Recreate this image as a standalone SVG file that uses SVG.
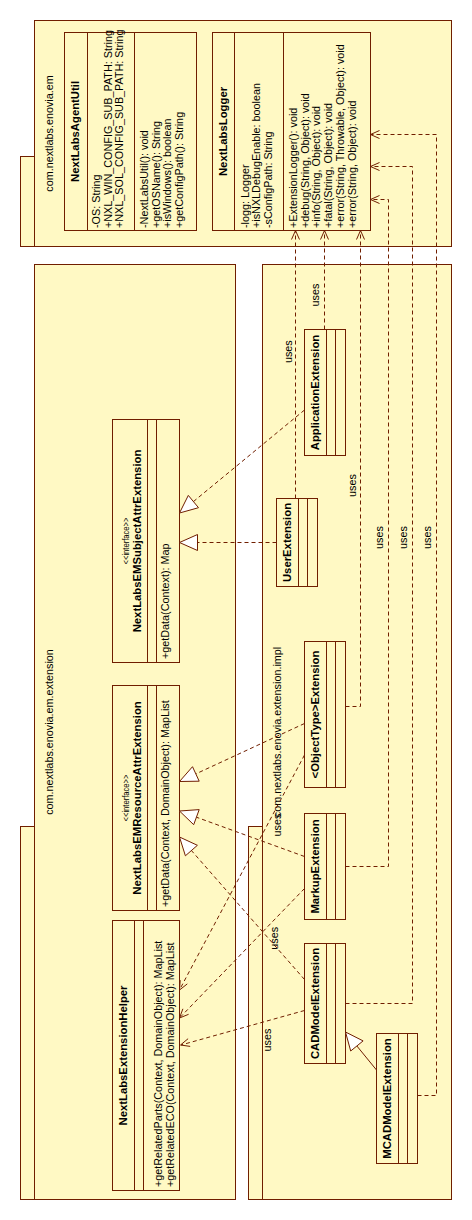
<svg xmlns="http://www.w3.org/2000/svg" width="472" height="1220" viewBox="0 0 472 1220">
<style>
.pk{fill:#FFF9C4;stroke:#701E00;stroke-width:1}
.cl{fill:#FFF9C4;stroke:#701E00;stroke-width:1}
.dv{stroke:#701E00;stroke-width:1;fill:none}
.t{font-family:"Liberation Sans",Arial,sans-serif;font-size:10.8px;fill:#000}
.b{font-weight:bold;font-size:11.3px}
.m{text-anchor:middle}
.st{font-size:9.5px}
.dep{fill:none;stroke:#701E00;stroke-width:1;stroke-dasharray:4 3}
.ln{fill:none;stroke:#701E00;stroke-width:1}
.tri{fill:#fff;stroke:#701E00;stroke-width:1}
</style>
<rect width="472" height="1220" fill="#fff"/>

<g id="pkg-em">
<rect class="pk" x="20.5" y="156.5" width="14" height="90"/>
<rect class="pk" x="34.5" y="20.5" width="417" height="226"/>
<text class="t m" transform="translate(52.5,133.5) rotate(-90)">com.nextlabs.enovia.em</text>
</g>
<g id="pkg-extension">
<rect class="pk" x="20.5" y="826.5" width="14" height="373"/>
<rect class="pk" x="34.5" y="264.5" width="201" height="935"/>
<text class="t m" transform="translate(52.5,732) rotate(-90)">com.nextlabs.enovia.em.extension</text>
</g>
<g id="pkg-impl">
<rect class="pk" x="248.5" y="826.5" width="14" height="373"/>
<rect class="pk" x="262.5" y="264.5" width="189" height="935"/>
<text class="t m" transform="translate(280.5,732) rotate(-90)">com.nextlabs.enovia.extension.impl</text>
</g>

<g id="NextLabsAgentUtil">
<rect class="cl" x="64.5" y="32.5" width="132" height="198"/>
<path class="dv" d="M87.5,32.5V230.5M134.5,32.5V230.5"/>
<text class="t b m" transform="translate(78.5,131.5) rotate(-90)">NextLabsAgentUtil</text>
<text class="t" transform="translate(100,228) rotate(-90)">-OS: String</text>
<text class="t" transform="translate(111.7,228) rotate(-90)">+NXL_WIN_CONFIG_SUB_PATH: String</text>
<text class="t" transform="translate(123.4,228) rotate(-90)">+NXL_SOL_CONFIG_SUB_PATH: String</text>
<text class="t" transform="translate(148,228) rotate(-90)">-NextLabsUtil(): void</text>
<text class="t" transform="translate(159.7,228) rotate(-90)">+getOSName(): String</text>
<text class="t" transform="translate(171.4,228) rotate(-90)">+isWindows(): boolean</text>
<text class="t" transform="translate(183.1,228) rotate(-90)">+getConfigPath(): String</text>
</g>

<g id="NextLabsLogger">
<rect class="cl" x="212.5" y="32.5" width="158" height="198"/>
<path class="dv" d="M234.5,32.5V230.5M283.5,32.5V230.5"/>
<text class="t b m" transform="translate(227,131.5) rotate(-90)">NextLabsLogger</text>
<text class="t" transform="translate(248.5,228) rotate(-90)">-logg: Logger</text>
<text class="t" transform="translate(260.2,228) rotate(-90)">+isNXLDebugEnable: boolean</text>
<text class="t" transform="translate(271.9,228) rotate(-90)">-sConfigPath: String</text>
<text class="t" transform="translate(297,228) rotate(-90)">+ExtensionLogger(): void</text>
<text class="t" transform="translate(308.7,228) rotate(-90)">+debug(String, Object): void</text>
<text class="t" transform="translate(320.4,228) rotate(-90)">+info(String, Object): void</text>
<text class="t" transform="translate(332.1,228) rotate(-90)">+fatal(String, Object): void</text>
<text class="t" transform="translate(343.8,228) rotate(-90)">+error(String, Throwable, Object): void</text>
<text class="t" transform="translate(355.5,228) rotate(-90)">+error(String, Object): void</text>
</g>

<g id="NextLabsEMSubjectAttrExtension">
<rect class="cl" x="112.5" y="419.5" width="67" height="243"/>
<path class="dv" d="M147.5,419.5V662.5M156.5,419.5V662.5"/>
<text class="t st m" transform="translate(129,541) rotate(-90)" textLength="47" lengthAdjust="spacingAndGlyphs">&lt;&lt;interface&gt;&gt;</text>
<text class="t b m" transform="translate(141,541) rotate(-90)">NextLabsEMSubjectAttrExtension</text>
<text class="t" transform="translate(169,659) rotate(-90)">+getData(Context): Map</text>
</g>

<g id="NextLabsEMResourceAttrExtension">
<rect class="cl" x="112.5" y="685.5" width="67" height="225"/>
<path class="dv" d="M147.5,685.5V910.5M156.5,685.5V910.5"/>
<text class="t st m" transform="translate(129,798) rotate(-90)" textLength="47" lengthAdjust="spacingAndGlyphs">&lt;&lt;interface&gt;&gt;</text>
<text class="t b m" transform="translate(141,798) rotate(-90)">NextLabsEMResourceAttrExtension</text>
<text class="t" transform="translate(169,907) rotate(-90)">+getData(Context, DomainObject): MapList</text>
</g>

<g id="NextLabsExtensionHelper">
<rect class="cl" x="112.5" y="920.5" width="67" height="270"/>
<path class="dv" d="M134.5,920.5V1190.5M143.5,920.5V1190.5"/>
<text class="t b m" transform="translate(127,1055.5) rotate(-90)">NextLabsExtensionHelper</text>
<text class="t" transform="translate(162,1187) rotate(-90)">+getRelatedParts(Context, DomainObject): MapList</text>
<text class="t" transform="translate(173.5,1187) rotate(-90)">+getRelatedECO(Context, DomainObject): MapList</text>
</g>

<g id="ApplicationExtension">
<rect class="cl" x="304.5" y="329.5" width="41" height="126"/>
<path class="dv" d="M326.5,329.5V455.5M335.5,329.5V455.5"/>
<text class="t b m" transform="translate(318.5,392.5) rotate(-90)">ApplicationExtension</text>
</g>
<g id="UserExtension">
<rect class="cl" x="276.5" y="498.5" width="41" height="88"/>
<path class="dv" d="M298.5,498.5V586.5M307.5,498.5V586.5"/>
<text class="t b m" transform="translate(290.5,542.5) rotate(-90)">UserExtension</text>
</g>
<g id="ObjectTypeExtension">
<rect class="cl" x="304.5" y="641.5" width="41" height="146"/>
<path class="dv" d="M326.5,641.5V787.5M335.5,641.5V787.5"/>
<text class="t b m" transform="translate(318.5,714.5) rotate(-90)">&lt;ObjectType&gt;Extension</text>
</g>
<g id="MarkupExtension">
<rect class="cl" x="304.5" y="813.5" width="41" height="106"/>
<path class="dv" d="M326.5,813.5V919.5M335.5,813.5V919.5"/>
<text class="t b m" transform="translate(318.5,866.5) rotate(-90)">MarkupExtension</text>
</g>
<g id="CADModelExtension">
<rect class="cl" x="304.5" y="943.5" width="41" height="120"/>
<path class="dv" d="M326.5,943.5V1063.5M335.5,943.5V1063.5"/>
<text class="t b m" transform="translate(318.5,1003.5) rotate(-90)">CADModelExtension</text>
</g>
<g id="MCADModelExtension">
<rect class="cl" x="376.5" y="1033.5" width="41" height="130"/>
<path class="dv" d="M398.5,1033.5V1163.5M407.5,1033.5V1163.5"/>
<text class="t b m" transform="translate(390.5,1098.5) rotate(-90)">MCADModelExtension</text>
</g>

<g id="connectors">
<path class="dep" d="M295.5,498.5V231"/>
<path class="ln" d="M291.5,239.5L295.5,230.5L299.5,239.5"/>
<path class="dep" d="M324.5,329.5V231"/>
<path class="ln" d="M320.5,239.5L324.5,230.5L328.5,239.5"/>
<path class="dep" d="M345.5,706.5H360.5V231"/>
<path class="ln" d="M356.5,239.5L360.5,230.5L364.5,239.5"/>
<path class="dep" d="M345.5,866.5H388.5V199.5H371"/>
<path class="ln" d="M379.5,195.5L370.5,199.5L379.5,203.5"/>
<path class="dep" d="M345.5,1003.5H412.5V166.5H371"/>
<path class="ln" d="M379.5,162.5L370.5,166.5L379.5,170.5"/>
<path class="dep" d="M417.5,1095.5H436.5V134.5H371"/>
<path class="ln" d="M379.5,130.5L370.5,134.5L379.5,138.5"/>
<path class="dep" d="M304.5,410L193.4,501.6"/>
<polygon class="tri" points="179.5,513 188.3,495.4 198.5,507.7"/>
<path class="dep" d="M276.5,542.5H197.5"/>
<polygon class="tri" points="179.5,542.5 197.5,534.5 197.5,550.5"/>
<path class="dep" d="M304.5,723.5L195.8,773.9"/>
<polygon class="tri" points="179.5,781.5 192.5,766.7 199.2,781.2"/>
<path class="dep" d="M304.5,856.5L196.4,817.2"/>
<polygon class="tri" points="179.5,811 199.2,809.6 193.7,824.7"/>
<path class="dep" d="M304.5,979.5L191.4,850.5"/>
<polygon class="tri" points="179.5,837 197.4,845.3 185.4,855.8"/>
<path class="ln" d="M376.5,1070L356.9,1046"/>
<polygon class="tri" points="345.5,1032 363.1,1040.9 350.7,1051"/>
<path class="dep" d="M304.5,755L180,989"/>
<path class="ln" d="M180.2,980.2L179.5,990L187.3,983.9"/>
<path class="dep" d="M304.5,888.5L180,1017.5"/>
<path class="ln" d="M182.9,1008.8L179.5,1018L188.6,1014.3"/>
<path class="dep" d="M304.5,1010.5L181,1045"/>
<path class="ln" d="M188.1,1038.7L180.5,1045L190.2,1046.4"/>
<text class="t m" transform="translate(291.5,351.7) rotate(-90)">uses</text>
<text class="t m" transform="translate(319,295) rotate(-90)">uses</text>
<text class="t m" transform="translate(356,485.5) rotate(-90)">uses</text>
<text class="t m" transform="translate(382.8,537.5) rotate(-90)">uses</text>
<text class="t m" transform="translate(406.8,537.5) rotate(-90)">uses</text>
<text class="t m" transform="translate(431,537.5) rotate(-90)">uses</text>
<text class="t m" transform="translate(281,825) rotate(-90)">uses</text>
<text class="t m" transform="translate(277.8,938.3) rotate(-90)">uses</text>
<text class="t m" transform="translate(271,1040) rotate(-90)">uses</text>
</g>
</svg>
